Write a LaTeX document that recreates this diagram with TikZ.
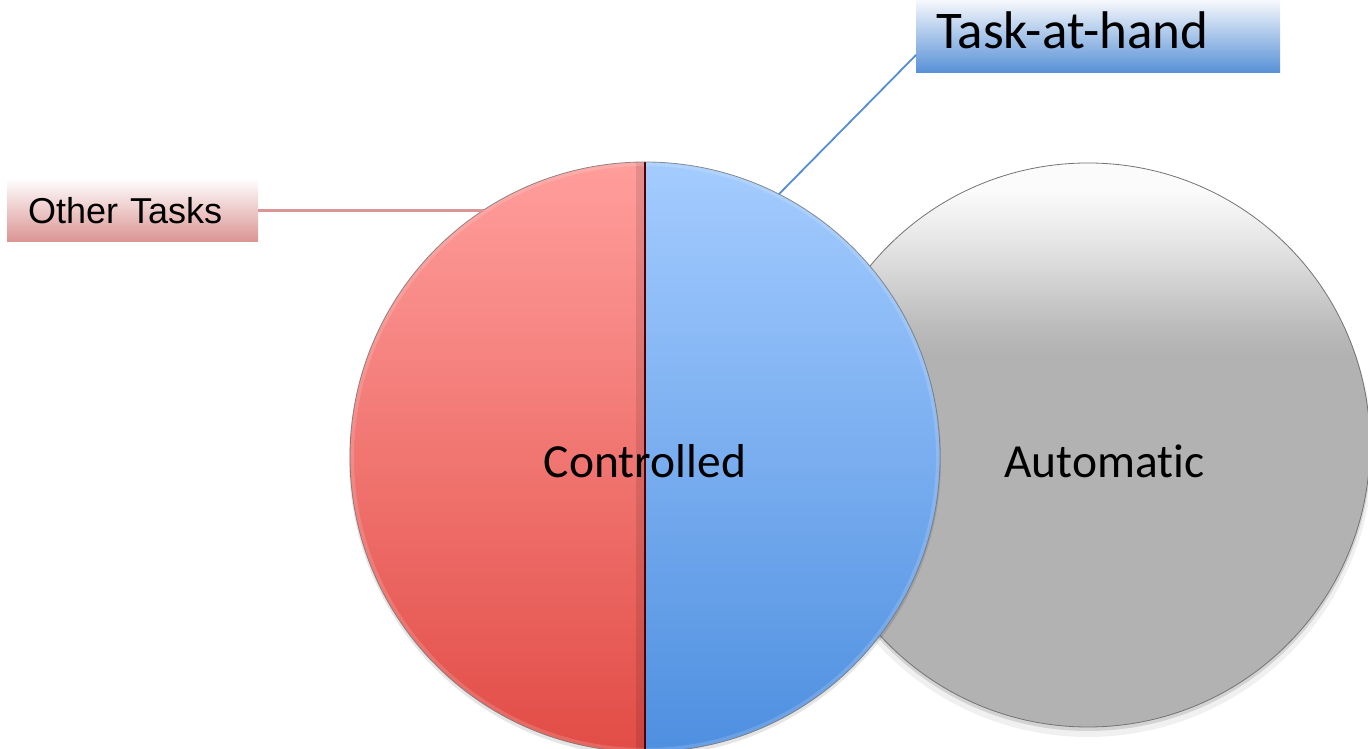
\documentclass[tikz,border=0pt]{standalone}
\usepackage{fontspec}
\setmainfont{Carlito}[Ligatures=NoCommon]
\newfontfamily\arialf{Liberation Sans}
\usetikzlibrary{calc}

\definecolor{redT}{RGB}{255,158,156}
\definecolor{redB}{RGB}{226,76,70}
\definecolor{bluT}{RGB}{164,204,255}
\definecolor{bluB}{RGB}{78,143,224}
\definecolor{otT}{RGB}{254,252,252}
\definecolor{otB}{RGB}{218,148,146}
\definecolor{otLine}{RGB}{217,150,148}
\definecolor{taT}{RGB}{246,248,252}
\definecolor{taB}{RGB}{86,144,214}
\definecolor{taLine}{RGB}{84,141,212}
\definecolor{gA}{RGB}{178,178,178}
\definecolor{gB}{RGB}{186,186,186}
\definecolor{gC}{RGB}{201,201,201}
\definecolor{gD}{RGB}{226,226,226}
\definecolor{gE}{RGB}{251,251,251}

% soft grey sphere: flat grey below, brightening towards the top
\pgfdeclareverticalshading{grayball}{100bp}{%
  color(0bp)=(gA); color(58bp)=(gA); color(60.2bp)=(gB);
  color(62.9bp)=(gC); color(67.3bp)=(gD); color(72.6bp)=(gE);
  color(100bp)=(gE)}

\begin{document}
\begin{tikzpicture}[x=1pt,y=1pt,
  disc/.style={circle, inner sep=0pt, outer sep=0pt, draw=none},
  lbl/.style={font=\fontsize{47.5}{50}\selectfont, inner sep=0pt},
  otbox/.style={rectangle, outer sep=0pt, inner ysep=0pt, inner xsep=21pt,
    text width=209pt, align=left, minimum height=62pt,
    top color=otT, bottom color=otB,
    font=\arialf\fontsize{36}{40}\selectfont},
  tabox/.style={rectangle, outer sep=0pt, inner ysep=0pt, inner xsep=20pt,
    text width=324pt, align=left, minimum height=73pt, text depth=13pt,
    top color=taT, bottom color=taB,
    font=\fontsize{53}{56}\selectfont},
  otline/.style={draw=otLine, line width=3pt},
  taline/.style={draw=taLine, line width=1.8pt}
]
\useasboundingbox (0,0) rectangle (1368,749);

% automatic processing disc (behind)
\node[disc, minimum size=564pt] (auto) at (1088,304) {};
\fill[black, opacity=.06] ([yshift=-7pt]auto.center) circle (285);
\fill[black, opacity=.12] ([yshift=-3pt]auto.center) circle (283);
\shade[shading=grayball] (auto.center) circle (282);
\draw[black!55, line width=.8pt] (auto.center) circle (282);

% controlled processing disc, split in two halves
\node[disc, minimum size=590pt] (ctrl) at (645,292) {};
\fill[black, opacity=.10] ([yshift=-3pt]ctrl.center) circle (296);
\shade[top color=redT, bottom color=redB]
  (ctrl.north) arc[start angle=90, end angle=270, radius=295] -- cycle;
\shade[top color=bluT, bottom color=bluB]
  (ctrl.north) arc[start angle=90, end angle=-90, radius=295] -- cycle;
\begin{scope}
  \clip (ctrl.center) circle (295);
  \fill[black, opacity=.10] ([xshift=-9pt]ctrl.south) rectangle (ctrl.north);
  \draw[white, opacity=.15, line width=8pt] (ctrl.center) circle (295);
\end{scope}
\draw[black!70!red, line width=1.2pt] (ctrl.north) -- (ctrl.south);
\draw[black!55, opacity=.8, line width=.8pt] (ctrl.center) circle (295);

% disc labels
\node[lbl] (ctext) at (645,288) {Controlled};
\node[lbl] (atext) at (1104.5,288) {Automatic};

% callout boxes
\node[otbox] (ot) at (132.5,538) {Other Tasks};
\node[tabox] (tah) at (1098,712.5) {Task-at-hand};

% callout leaders
\draw[otline] (ot.east) -- (ot.east -| ctrl.123);
\draw[taline] ([yshift=18pt]tah.south west) -- (ctrl.63);
\end{tikzpicture}
\end{document}
